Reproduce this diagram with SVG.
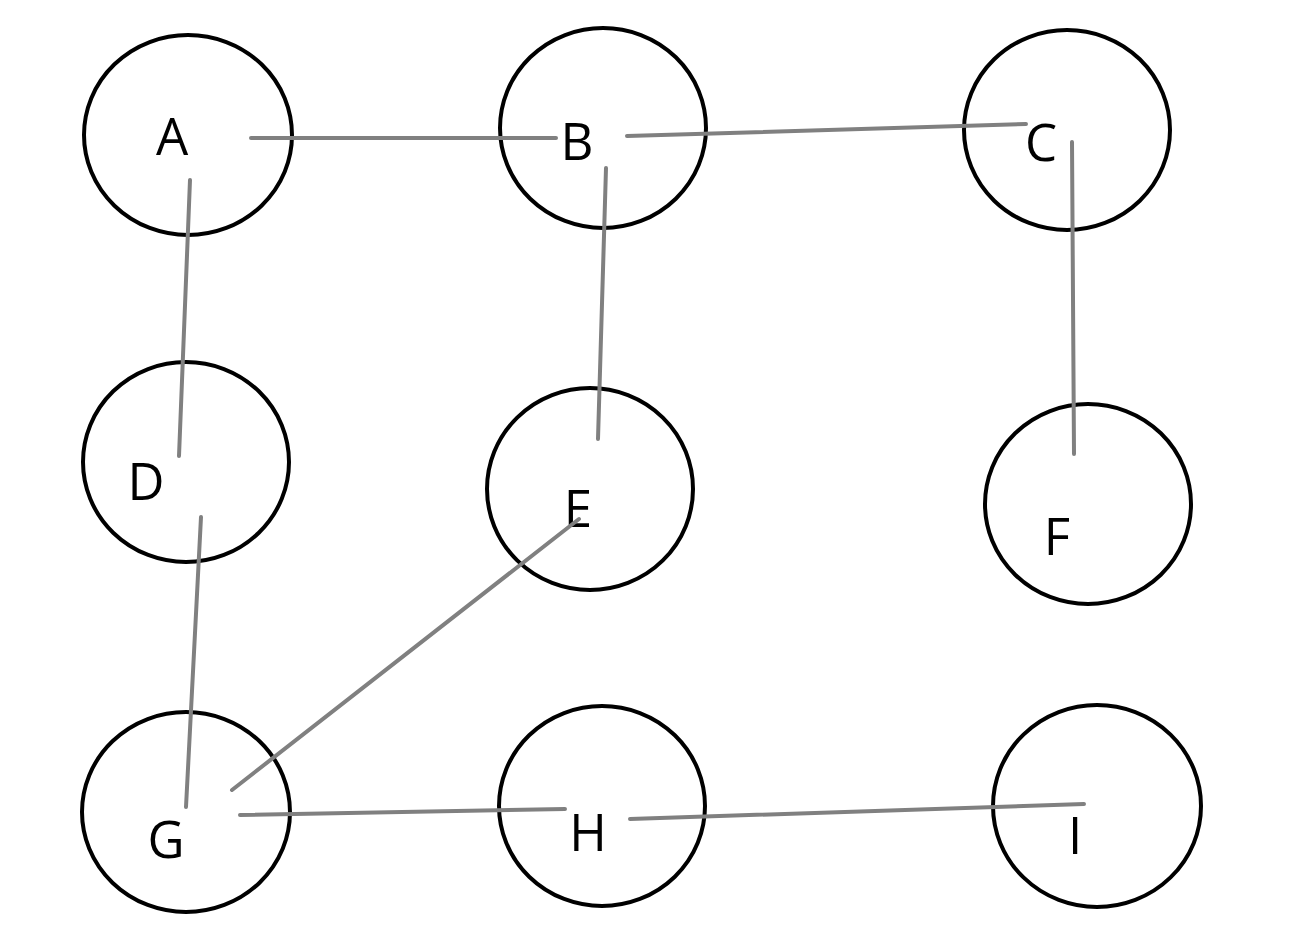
<svg xmlns="http://www.w3.org/2000/svg" width="1308" height="926" viewBox="0 0 1308 926">
<style>
.n{fill:none;stroke:#000;stroke-width:4}
.t{font-family:"Open Sans","Noto Sans",sans-serif;font-size:51px;fill:#000;text-anchor:middle}
.e{stroke:#808080;stroke-width:4;stroke-linecap:round;fill:none}
</style>
<rect width="1308" height="926" fill="#fff"/>
<g id="nodes">
<g id="A"><ellipse class="n" cx="188" cy="135" rx="104" ry="100"/><text class="t" x="172" y="155">A</text></g>
<g id="B"><ellipse class="n" cx="603" cy="128" rx="103" ry="100"/><text class="t" x="577" y="160">B</text></g>
<g id="C"><ellipse class="n" cx="1067" cy="130" rx="103" ry="100"/><text class="t" x="1041" y="161">C</text></g>
<g id="D"><ellipse class="n" cx="186" cy="462" rx="103" ry="100"/><text class="t" x="146" y="500">D</text></g>
<g id="E"><ellipse class="n" cx="590" cy="489" rx="103" ry="101"/><text class="t" x="578" y="527">E</text></g>
<g id="F"><ellipse class="n" cx="1088" cy="504" rx="103" ry="100"/><text class="t" x="1057" y="555">F</text></g>
<g id="G"><ellipse class="n" cx="186" cy="812" rx="104" ry="100"/><text class="t" x="166" y="858">G</text></g>
<g id="H"><ellipse class="n" cx="602" cy="806" rx="103" ry="100"/><text class="t" x="588" y="851">H</text></g>
<g id="I"><ellipse class="n" cx="1097" cy="806" rx="104" ry="101"/><text class="t" x="1075" y="854">I</text></g>
</g>
<g id="edges">
<line class="e" x1="251" y1="138" x2="556" y2="138"/>
<line class="e" x1="627" y1="136" x2="1026" y2="124"/>
<line class="e" x1="190" y1="180" x2="179" y2="456"/>
<line class="e" x1="606" y1="168" x2="598" y2="439"/>
<line class="e" x1="1072" y1="142" x2="1074" y2="454"/>
<line class="e" x1="201" y1="517" x2="186" y2="807"/>
<line class="e" x1="579" y1="519" x2="232" y2="790"/>
<line class="e" x1="240" y1="815" x2="565" y2="809"/>
<line class="e" x1="630" y1="819" x2="1084" y2="804"/>
</g>
</svg>
